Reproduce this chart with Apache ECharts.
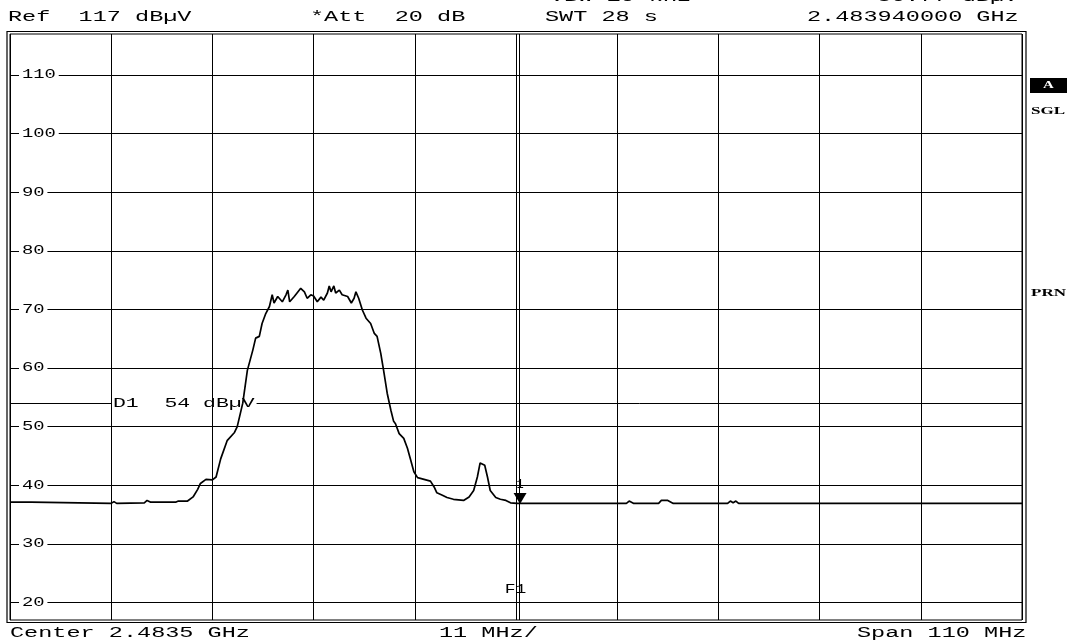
<!DOCTYPE html>
<html>
<head>
<meta charset="utf-8">
<script src="https://cdn.jsdelivr.net/npm/echarts@6/dist/echarts.min.js"></script>
<style>html,body{margin:0;padding:0;background:#fff}#c{width:1070px;height:643px}</style>
</head>
<body>
<div id="c"></div>
<script>
// ---- data ----
const centerMHz = 2483.5;
const spanMHz = 110;
const divMHz = 11;
const refLevel = 117;
const levelMin = 17;
const yTicks = [20, 30, 40, 50, 60, 70, 80, 90, 100, 110];
const yTickLabels = ['20', '30', '40', '50', '60', '70', '80', '90', '100', '110'];

const freqMHz = [
  2428.5, 2430.8, 2431.0, 2439.5, 2439.8, 2440.1, 2443.1, 2443.4, 2443.8, 2446.5,
  2446.8, 2447.8, 2448.4, 2448.9, 2449.2, 2449.8, 2450.5, 2450.9, 2451.4, 2452.1,
  2452.9, 2453.2, 2453.8, 2454.3, 2454.9, 2455.2, 2455.6, 2455.9, 2456.3, 2456.7,
  2457.0, 2457.2, 2457.6, 2458.1, 2458.5, 2458.7, 2458.9, 2459.4, 2459.7, 2460.1,
  2460.5, 2460.8, 2461.2, 2461.5, 2461.9, 2462.3, 2462.6, 2463.0, 2463.2, 2463.4,
  2463.7, 2463.9, 2464.3, 2464.6, 2465.2, 2465.6, 2465.9, 2466.1, 2466.4, 2466.8,
  2467.2, 2467.7, 2468.1, 2468.4, 2468.8, 2469.1, 2469.5, 2469.9, 2470.2, 2470.4,
  2470.8, 2471.3, 2471.7, 2472.0, 2472.4, 2472.8, 2473.5, 2474.2, 2474.6, 2474.9,
  2475.5, 2476.0, 2476.7, 2477.8, 2478.4, 2478.9, 2479.3, 2479.6, 2479.8, 2480.1,
  2480.4, 2480.7, 2481.3, 2481.8, 2482.4, 2482.9, 2483.6, 2495.5, 2495.8, 2496.0,
  2496.3, 2499.0, 2499.3, 2500.0, 2500.6, 2506.5, 2506.8, 2507.1, 2507.4, 2507.7,
  2538.5
];
const levelDbuV = [
  37.1, 37.1, 36.9, 36.9, 37.2, 36.9, 37.0, 37.4, 37.1, 37.1,
  37.3, 37.3, 38.0, 39.3, 40.3, 41.0, 40.9, 41.4, 44.5, 47.6,
  49.0, 50.0, 54.0, 59.6, 63.1, 65.1, 65.4, 67.6, 69.3, 70.5,
  72.5, 71.1, 72.2, 71.3, 72.5, 73.3, 71.3, 72.2, 72.8, 73.6,
  73.0, 71.9, 72.5, 72.3, 71.3, 72.1, 71.6, 72.8, 74.0, 73.0,
  74.0, 72.8, 73.3, 72.5, 72.2, 71.1, 71.9, 73.0, 71.9, 69.9,
  68.5, 67.6, 65.9, 65.4, 62.5, 59.7, 55.7, 52.8, 50.9, 50.5,
  48.8, 48.0, 46.3, 44.6, 42.3, 41.3, 41.0, 40.7, 39.7, 38.7,
  38.3, 37.9, 37.6, 37.4, 38.0, 39.1, 41.4, 43.8, 44.0, 43.4,
  41.4, 39.1, 37.9, 37.6, 37.4, 37.0, 36.9, 36.9, 37.3, 37.3,
  36.9, 36.9, 37.4, 37.4, 36.9, 36.9, 37.3, 37.0, 37.3, 36.9,
  36.9
];
const displayLineD1 = 54;
const d1Label = 'D1  54 dBµV';
const f1MHz = 2483.8;
const f1Label = 'F1';
const marker1MHz = 2483.94;
const marker1Level = 36.9;
const marker1Label = '1';

const headerTop = ['VBW 10 kHz', '36.77 dBµV'];
const headerMain = ['Ref  117 dBµV', '*Att  20 dB', 'SWT 28 s', '2.483940000 GHz'];
const footer = ['Center 2.4835 GHz', '11 MHz/', 'Span 110 MHz'];
const sideLabels = ['A', 'SGL', 'PRN'];

// ---- chart ----
const MONO = '"Liberation Mono", "Courier New", monospace';
const chart = echarts.init(document.getElementById('c'), null, {renderer: 'canvas'});
const half = spanMHz / 2;
const traceData = freqMHz.map((f, i) => [f - centerMHz, levelDbuV[i]]);

function baseOption() {
  return {
    animation: false,
    backgroundColor: '#fff',
    grid: {left: 10, right: 48, top: 34, bottom: 23, show: true, borderColor: '#000', borderWidth: 1},
    xAxis: {
      type: 'value', min: -half, max: half, interval: divMHz,
      axisLine: {show: false}, axisTick: {show: false}, axisLabel: {show: false},
      splitLine: {show: true, lineStyle: {color: '#000', width: 1}}
    },
    yAxis: {
      type: 'value', min: levelMin, max: refLevel,
      axisLine: {show: false}, axisTick: {show: false}, axisLabel: {show: false},
      splitLine: {show: false}
    },
    series: [{
      type: 'line', z: 3, data: traceData, showSymbol: false, symbol: 'none',
      lineStyle: {color: '#000', width: 1.7}, silent: true,
      markLine: {
        z: 1, silent: true, symbol: 'none', animation: false,
        label: {show: false},
        lineStyle: {color: '#000', width: 1, type: 'solid'},
        data: yTicks.map(v => ({yAxis: v})).concat([{xAxis: f1MHz - centerMHz}])
      },
      markPoint: {
        z: 6, silent: true, animation: false,
        data: [{coord: [marker1MHz - centerMHz, marker1Level]}],
        symbol: 'triangle', symbolRotate: 180, symbolSize: [13, 11], symbolOffset: [0, -5],
        itemStyle: {color: '#000'},
        label: {show: true, position: 'top', distance: 2, formatter: marker1Label,
                color: '#000', fontFamily: MONO, fontSize: 12}
      }
    }]
  };
}
chart.setOption(baseOption());

function txt(str, x, y, o) {
  o = o || {};
  const st = {
    text: str, x: 0, y: 0,
    font: (o.bold ? 'bold ' : '') + (o.size || 14) + 'px ' + (o.family || MONO),
    fill: o.fill || '#000',
    textAlign: o.align || 'left', align: o.align || 'left',
    textVerticalAlign: 'middle', verticalAlign: 'middle'
  };
  if (o.bg) { st.backgroundColor = o.bg; st.padding = o.pad || [0, 0]; }
  return {type: 'text', x: x, y: y, scaleX: o.sx || 1.68, z: o.z || 10, silent: true, style: st};
}

const px = (xv, yv) => chart.convertToPixel({gridIndex: 0}, [xv, yv]);
const fromPx = (x, y) => chart.convertFromPixel({gridIndex: 0}, [x, y]);

const gLeft = px(-half, refLevel)[0];
const gRight = px(half, refLevel)[0];
const gTop = px(-half, refLevel)[1];
const gBottom = px(-half, levelMin)[1];

const graphics = [];
// outer frame
graphics.push({type: 'rect', z: 0, silent: true,
  shape: {x: gLeft - 3, y: gTop - 2.5, width: gRight - gLeft + 7, height: gBottom - gTop + 5},
  style: {fill: null, stroke: '#000', lineWidth: 1.2}});

// header lines
graphics.push(txt(headerTop[0], 550, -3));
graphics.push(txt(headerTop[1], 877, -3));
const hx = [8, 310, 545, 807];
headerMain.forEach((s, i) => graphics.push(txt(s, hx[i], 17)));
const fx = [10, 439, 857];
footer.forEach((s, i) => graphics.push(txt(s, fx[i], 633)));

// side labels
const SERIF = '"Liberation Serif", serif';
graphics.push({type: 'rect', z: 10, silent: true, shape: {x: 1030, y: 78, width: 37, height: 15}, style: {fill: '#000'}});
graphics.push(txt(sideLabels[0], 1048.5, 85.5, {family: SERIF, bold: true, size: 10, sx: 1.5, fill: '#fff', align: 'center'}));
graphics.push(txt(sideLabels[1], 1031, 111, {family: SERIF, bold: true, size: 11, sx: 1.55}));
graphics.push(txt(sideLabels[2], 1031, 293, {family: SERIF, bold: true, size: 11, sx: 1.55}));

// y tick labels
yTicks.forEach((v, i) => {
  const p = px(-half, v);
  graphics.push(txt(yTickLabels[i], p[0] + 9, p[1], {size: 13, sx: 1.45, bg: '#fff', pad: [0, 2], z: 2}));
});

// D1 label and split D1 line
const d1p = px(-half, displayLineD1);
const d1Start = gLeft + 103;
const d1Width = d1Label.length * 7.8 * 1.65;
graphics.push(txt(d1Label, d1Start, d1p[1], {size: 13, sx: 1.65, z: 2}));
const segA = fromPx(d1Start - 1, d1p[1])[0];
const segB = fromPx(d1Start + d1Width + 2, d1p[1])[0];

// F1 label
const f1p = px(f1MHz - centerMHz, levelMin);
graphics.push(txt(f1Label, f1p[0] - 14, gBottom - 30, {size: 12, sx: 1.5, z: 2}));

const opt = baseOption();
opt.series[0].markLine.data = opt.series[0].markLine.data.concat([
  [{coord: [-half, displayLineD1]}, {coord: [segA, displayLineD1]}],
  [{coord: [segB, displayLineD1]}, {coord: [half, displayLineD1]}]
]);
opt.graphic = {elements: graphics};
chart.setOption(opt, true);
</script>
</body>
</html>
